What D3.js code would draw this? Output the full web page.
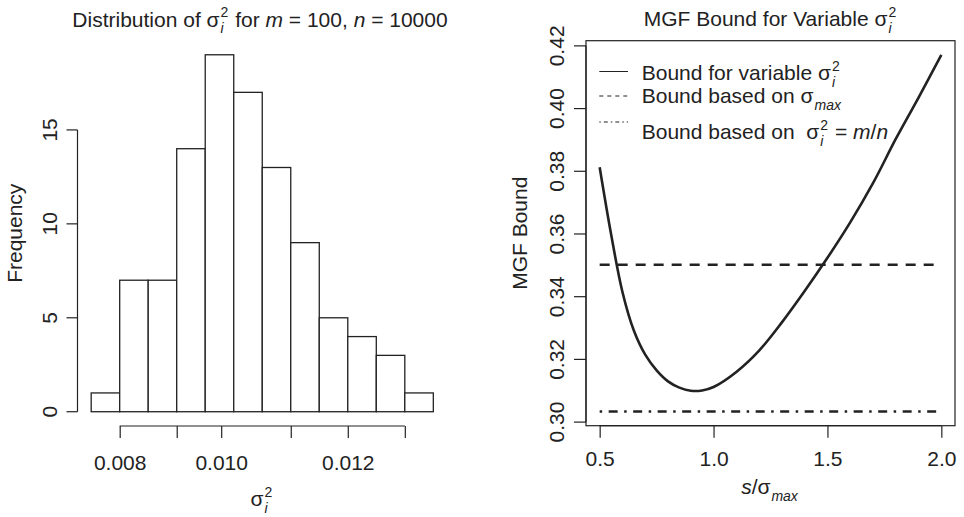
<!DOCTYPE html>
<html>
<head>
<meta charset="utf-8">
<script src="https://cdn.jsdelivr.net/npm/d3@7"></script>
<style>
  html, body { margin: 0; padding: 0; background: #fff; }
  svg text { font-family: "Liberation Sans", Arial, Helvetica, sans-serif; fill: #222; white-space: pre; }
</style>
</head>
<body>
<svg id="chart" width="964" height="517"></svg>
<script>
// ---- Histogram of per-node variances ----
const binStart = 0.0075;
const binWidth = 0.0005;
const counts = [1, 7, 7, 14, 19, 17, 13, 9, 5, 4, 3, 1];
const histTickValues = [0.008, 0.009, 0.00978, 0.011, 0.012, 0.013];
const histTickLabels = ["0.008", "", "0.010", "", "0.012", ""];
const freqTicks = [0, 5, 10, 15];

// ---- MGF bound as a function of s / sigma_max ----
const sRatio = [0.50, 0.55, 0.60, 0.65, 0.70, 0.75, 0.80, 0.85, 0.90, 0.95, 1.00,
                1.10, 1.20, 1.30, 1.40, 1.50, 1.60, 1.70, 1.80, 1.90, 2.00];
const bound  = [0.3813, 0.3600, 0.3415, 0.3292, 0.3215, 0.3165, 0.3130, 0.3110, 0.3100, 0.3101, 0.3112,
                0.3160, 0.3228, 0.3318, 0.3418, 0.3524, 0.3637, 0.3762, 0.3903, 0.4035, 0.4171];
const sigmaMaxBound = 0.3502;
const meanVarBound = 0.3034;
const sTicks = [0.5, 1.0, 1.5, 2.0];
const boundTicks = [0.30, 0.32, 0.34, 0.36, 0.38, 0.40, 0.42];

const FS = 21, SMALL = 14, INK = "#222";
const SUP_DY = -9.5, SUB_DY = 6.5;
const svg = d3.select("#chart");

// One <text> per expression: plain/italic runs plus stacked sup/sub scripts as positioned tspans.
function mathText(g, x, y, parts, anchor) {
  const txt = g.append("text").style("font-size", FS + "px");
  let cx = 0;
  const add = (s, dx, dy, size, italic) => {
    const t = txt.append("tspan").attr("x", dx).attr("y", dy).text(s);
    if (size) t.style("font-size", size + "px");
    if (italic) t.style("font-style", "italic");
    return t.node().getComputedTextLength();
  };
  parts.forEach(p => {
    if (p.sup !== undefined || p.sub !== undefined) {
      let w = 0;
      if (p.sup !== undefined) w = Math.max(w, add(p.sup, cx + 1, SUP_DY, SMALL, false));
      if (p.sub !== undefined) w = Math.max(w, add(p.sub, cx + 1, SUB_DY, SMALL, true));
      cx += w + 2;
    } else {
      cx += add(p.t, cx, 0, null, p.it);
    }
  });
  const x0 = anchor === "middle" ? x - cx / 2 : x;
  txt.attr("transform", `translate(${x0},${y})`);
  return txt;
}

// ================= Left panel: histogram =================
const binEnd = binStart + binWidth * counts.length;
const xSpan = binEnd - binStart;
const xL = d3.scaleLinear()
  .domain([binStart - 0.04 * xSpan, binEnd + 0.04 * xSpan])
  .range([77.5, 447]);
const maxCount = d3.max(counts);
const yL = d3.scaleLinear()
  .domain([-0.04 * maxCount, maxCount * 1.04])
  .range([426, 40.5]);

const bins = counts.map((c, i) => ({ x0: binStart + i * binWidth, x1: binStart + (i + 1) * binWidth, n: c }));
const left = svg.append("g");
left.selectAll("rect.bar").data(bins).enter().append("rect")
  .attr("class", "bar")
  .attr("x", d => xL(d.x0))
  .attr("width", d => xL(d.x1) - xL(d.x0))
  .attr("y", d => yL(d.n))
  .attr("height", d => yL(0) - yL(d.n))
  .attr("fill", "#fff").attr("stroke", INK).attr("stroke-width", 1.3);

// x axis of histogram
const axL = d3.axisBottom(xL).tickValues(histTickValues)
  .tickFormat((d, i) => histTickLabels[i]).tickSizeOuter(0).tickSize(12);
const gxL = left.append("g").attr("transform", "translate(0,426)").call(axL);
gxL.select(".domain").attr("d", `M${xL(histTickValues[0])},0H${xL(histTickValues[histTickValues.length - 1])}`);
gxL.selectAll("line, path").attr("stroke", INK).attr("stroke-width", 1.2);
gxL.selectAll("text").style("font-size", FS + "px").attr("fill", INK).attr("dy", "0.71em").attr("y", 29);

// y axis of histogram
const gyL = left.append("g").attr("transform", "translate(77.5,0)");
gyL.append("line").attr("x1", 0).attr("x2", 0)
  .attr("y1", yL(freqTicks[0])).attr("y2", yL(freqTicks[freqTicks.length - 1]))
  .attr("stroke", INK).attr("stroke-width", 1.2);
gyL.selectAll("line.tk").data(freqTicks).enter().append("line").attr("class", "tk")
  .attr("x1", -11).attr("x2", 0).attr("y1", d => yL(d)).attr("y2", d => yL(d))
  .attr("stroke", INK).attr("stroke-width", 1.2);
gyL.selectAll("text").data(freqTicks).enter().append("text")
  .attr("transform", d => `translate(-21,${yL(d)}) rotate(-90)`)
  .attr("text-anchor", "middle").style("font-size", FS + "px").text(d => d);

left.append("text").attr("transform", `translate(22,${(40.5 + 426) / 2}) rotate(-90)`)
  .attr("text-anchor", "middle").style("font-size", FS + "px").text("Frequency");

mathText(left, 260, 26.5, [
  { t: "Distribution of σ" }, { sup: "2", sub: "i" }, { t: " for " }, { t: "m", it: true },
  { t: " = 100, " }, { t: "n", it: true }, { t: " = 10000" }
], "middle");
mathText(left, 262, 506, [{ t: "σ" }, { sup: "2", sub: "i" }], "middle");

// ================= Right panel: MGF bound =================
const sSpan = d3.max(sRatio) - d3.min(sRatio);
const xR = d3.scaleLinear()
  .domain([d3.min(sRatio) - 0.04 * sSpan, d3.max(sRatio) + 0.04 * sSpan])
  .range([586, 955]);
const bLo = Math.min(d3.min(bound), meanVarBound), bHi = Math.max(d3.max(bound), sigmaMaxBound);
const bSpan = bHi - bLo;
const yR = d3.scaleLinear()
  .domain([bLo - 0.04 * bSpan, bHi + 0.04 * bSpan])
  .range([425.7, 40.7]);

const right = svg.append("g");
right.append("rect").attr("x", 586).attr("y", 40.7).attr("width", 955 - 586).attr("height", 425.7 - 40.7)
  .attr("fill", "none").attr("stroke", INK).attr("stroke-width", 1.2);

const pts = sRatio.map((s, i) => [s, bound[i]]);
const line = d3.line().x(d => xR(d[0])).y(d => yR(d[1])).curve(d3.curveCatmullRom.alpha(0.5));
right.append("path").attr("d", line(pts)).attr("fill", "none")
  .attr("stroke", INK).attr("stroke-width", 2.6);

const sMin = d3.min(sRatio), sMax = d3.max(sRatio);
right.append("line").attr("x1", xR(sMin)).attr("x2", xR(sMax))
  .attr("y1", yR(sigmaMaxBound)).attr("y2", yR(sigmaMaxBound))
  .attr("stroke", INK).attr("stroke-width", 2.6).attr("stroke-dasharray", "10,8");
right.append("line").attr("x1", xR(sMin)).attr("x2", xR(sMax))
  .attr("y1", yR(meanVarBound)).attr("y2", yR(meanVarBound))
  .attr("stroke", INK).attr("stroke-width", 2.6).attr("stroke-dasharray", "2.5,6.5,9,6.5");

// x axis
const axR = d3.axisBottom(xR).tickValues(sTicks).tickFormat(d3.format(".1f"))
  .tickSizeOuter(0).tickSize(12);
const gxR = right.append("g").attr("transform", "translate(0,425.7)").call(axR);
gxR.select(".domain").attr("d", `M${xR(sTicks[0])},0H${xR(sTicks[sTicks.length - 1])}`);
gxR.selectAll("line, path").attr("stroke", INK).attr("stroke-width", 1.2);
gxR.selectAll("text").style("font-size", FS + "px").attr("fill", INK).attr("dy", "0.71em").attr("y", 25);

// y axis
const gyR = right.append("g").attr("transform", "translate(586,0)");
gyR.append("line").attr("x1", 0).attr("x2", 0)
  .attr("y1", yR(boundTicks[0])).attr("y2", yR(boundTicks[boundTicks.length - 1]))
  .attr("stroke", INK).attr("stroke-width", 1.2);
gyR.selectAll("line.tk").data(boundTicks).enter().append("line").attr("class", "tk")
  .attr("x1", -12).attr("x2", 0).attr("y1", d => yR(d)).attr("y2", d => yR(d))
  .attr("stroke", INK).attr("stroke-width", 1.2);
gyR.selectAll("text").data(boundTicks).enter().append("text")
  .attr("transform", d => `translate(-22,${yR(d)}) rotate(-90)`)
  .attr("text-anchor", "middle").style("font-size", FS + "px").text(d3.format(".2f"));

right.append("text").attr("transform", `translate(527,${(40.7 + 425.7) / 2}) rotate(-90)`)
  .attr("text-anchor", "middle").style("font-size", FS + "px").text("MGF Bound");

mathText(right, 770.5, 26, [{ t: "MGF Bound for Variable σ" }, { sup: "2", sub: "i" }], "middle");
mathText(right, 770, 494, [{ t: "s", it: true }, { t: "/σ" }, { sub: "max" }], "middle");

// legend
const legend = [
  { y: 71.5, base: 80, dash: null,
    parts: [{ t: "Bound for variable σ" }, { sup: "2", sub: "i" }] },
  { y: 96, base: 103, dash: "4,4",
    parts: [{ t: "Bound based on σ" }, { sub: "max" }] },
  { y: 122, base: 139, dash: "1.5,3,4,3",
    parts: [{ t: "Bound based on  σ" }, { sup: "2", sub: "i" }, { t: " = " }, { t: "m", it: true }, { t: "/" }, { t: "n", it: true }] }
];
legend.forEach(d => {
  const l = right.append("line").attr("x1", 599.3).attr("x2", 628)
    .attr("y1", d.y).attr("y2", d.y).attr("stroke", INK).attr("stroke-width", 1);
  if (d.dash) l.attr("stroke-dasharray", d.dash);
  mathText(right, 641.7, d.base, d.parts, "start");
});
</script>
</body>
</html>
